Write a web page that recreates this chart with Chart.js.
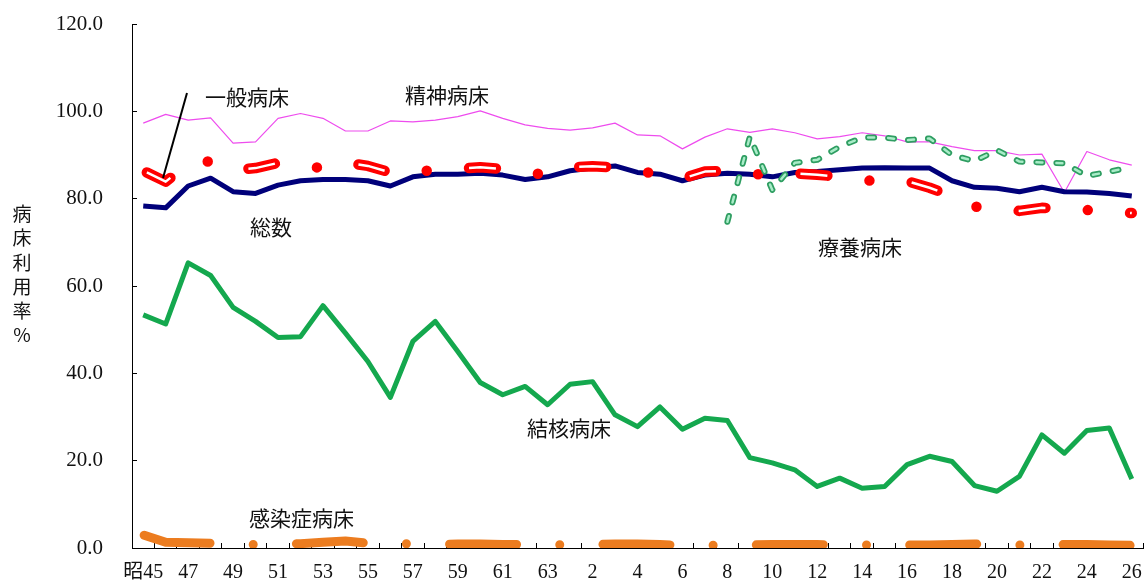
<!DOCTYPE html>
<html lang="ja">
<head>
<meta charset="utf-8">
<title>病床利用率の推移</title>
<script src="https://cdn.jsdelivr.net/npm/chart.js@4.4.1/dist/chart.umd.min.js"></script>
<style>
  html, body { margin: 0; padding: 0; background: #fff; }
  #wrap { position: relative; width: 1147px; height: 582px; }
</style>
</head>
<body>
<div id="wrap"><canvas id="bedChart"></canvas></div>
<script>
// 昭和45年〜平成26年
const years = ['昭45', '46', '47', '48', '49', '50', '51', '52', '53', '54',
  '55', '56', '57', '58', '59', '60', '61', '62', '63', '元',
  '2', '3', '4', '5', '6', '7', '8', '9', '10', '11',
  '12', '13', '14', '15', '16', '17', '18', '19', '20', '21',
  '22', '23', '24', '25', '26'];

const seishin = [97.3, 99.3, 98.0, 98.5, 92.7, 93.0, 98.4, 99.5, 98.4, 95.5,
  95.5, 97.8, 97.6, 98.0, 98.8, 100.1, 98.4, 96.9, 96.1, 95.7,
  96.2, 97.3, 94.6, 94.4, 91.4, 94.1, 96.0, 95.2, 96.0, 95.1,
  93.7, 94.2, 95.1, 94.4, 93.0, 93.0, 91.9, 91.0, 91.0, 90.0,
  90.2, 81.4, 90.8, 88.9, 87.7];

const sousu = [78.3, 77.9, 82.9, 84.7, 81.6, 81.2, 83.1, 84.1, 84.4, 84.4,
  84.1, 82.9, 85.0, 85.6, 85.6, 85.8, 85.4, 84.4, 85.0, 86.4,
  87.0, 87.5, 86.0, 85.6, 84.1, 85.4, 85.8, 85.6, 85.0, 86.0,
  86.2, 86.6, 87.0, 87.1, 87.0, 87.0, 84.1, 82.6, 82.4, 81.6,
  82.6, 81.6, 81.5, 81.2, 80.6];

const ippan = [86.4, 83.9, 88.0, 88.6, 86.6, 87.0, 88.2, 87.6, 87.0, 88.3,
  87.5, 86.0, 86.4, 86.4, 86.8, 87.2, 86.8, 85.8, 85.6, 87.2,
  87.4, 87.2, 86.4, 85.5, 84.6, 86.2, 86.4, 85.6, 85.6, 85.8,
  85.5, 85.0, 84.2, 84.0, 84.0, 82.5, 80.6, 78.2, 77.5, 77.2,
  77.9, 77.8, 77.4, 77.0, 76.7];

const kekkaku = [53.4, 51.3, 65.3, 62.4, 55.1, 51.9, 48.2, 48.4, 55.5, 49.2,
  42.7, 34.5, 47.3, 51.9, 45.0, 37.9, 35.1, 37.0, 32.8, 37.5,
  38.1, 30.5, 27.8, 32.3, 27.2, 29.7, 29.2, 20.7, 19.5, 17.9,
  14.1, 16.0, 13.7, 14.1, 19.1, 21.0, 19.8, 14.3, 13.0, 16.4,
  25.9, 21.7, 26.9, 27.5, 15.8];

const ryoyo = [null, null, null, null, null, null, null, null, null, null,
  null, null, null, null, null, null, null, null, null, null,
  null, null, null, null, null, null, 74.7, 94.2, 82.0, 88.2,
  88.9, 91.9, 94.0, 94.0, 93.4, 93.8, 90.0, 88.6, 91.1, 88.5,
  88.3, 88.1, 85.2, 86.2, 87.2];

const kansen = [3.0, 1.3, 1.2, 1.1, 0.9, 0.8, 0.8, 1.0, 1.3, 1.6,
  1.1, 0.9, 1.0, 0.8, 0.9, 0.9, 0.8, 0.8, 0.8, 0.7,
  0.8, 0.9, 0.9, 0.8, 0.6, 0.6, 0.7, 0.7, 0.8, 0.8,
  0.8, 0.7, 0.7, 0.6, 0.7, 0.7, 0.8, 0.9, 0.8, 0.7,
  0.7, 0.8, 0.8, 0.7, 0.6];

const yTicks = [0, 20, 40, 60, 80, 100, 120];

const notes = [
  { text: '一般病床', x: 205, y: 97 },
  { text: '精神病床', x: 405, y: 95 },
  { text: '総数', x: 250, y: 227 },
  { text: '療養病床', x: 818, y: 247 },
  { text: '結核病床', x: 527, y: 428 },
  { text: '感染症病床', x: 249, y: 518 }
];
const yTitle = '病床利用率%';

const cjk = '"Noto Sans CJK JP", "Noto Sans", sans-serif';
const serif = '"Liberation Serif", "Noto Sans CJK JP", serif';

const notesPlugin = {
  id: 'notes',
  afterDraw(chart) {
    const ctx = chart.ctx;
    ctx.save();
    ctx.fillStyle = '#111';
    ctx.textBaseline = 'middle';
    ctx.textAlign = 'left';
    ctx.font = '21px ' + cjk;
    notes.forEach(n => ctx.fillText(n.text, n.x, n.y));

    // 一般病床の引出線
    ctx.strokeStyle = '#000';
    ctx.lineWidth = 2;
    ctx.beginPath();
    ctx.moveTo(187, 93);
    ctx.lineTo(163, 178);
    ctx.stroke();

    // 縦書きの軸タイトル
    ctx.textAlign = 'center';
    ctx.font = '19px ' + cjk;
    [...yTitle].forEach((ch, i) => ctx.fillText(ch, 22, 214 + i * 24.2));
    ctx.restore();
  }
};

const ctx = document.getElementById('bedChart').getContext('2d');
new Chart(ctx, {
  type: 'line',
  data: {
    labels: years,
    datasets: [
      { label: '結核病床', data: kekkaku, borderColor: '#14a84e', borderWidth: 5, order: 7 },
      { label: '感染症病床', data: kansen, borderColor: '#ec7c1f', borderWidth: 9,
        borderCapStyle: 'round', borderDash: [67, 43.2, 0, 43.2], borderDashOffset: -1,
        clip: { left: 10, top: 10, right: 10, bottom: 0 }, order: 6 },
      { label: '精神病床', data: seishin, borderColor: '#ee4cee', borderWidth: 1.2, order: 5 },
      { label: '総数', data: sousu, borderColor: '#00007a', borderWidth: 5, order: 4 },
      { label: '一般病床', data: ippan, borderColor: '#ff0000', borderWidth: 10.5,
        borderCapStyle: 'round', borderDash: [27, 42.4, 0, 42.4], borderDashOffset: -4, order: 3 },
      { label: '一般病床(中)', data: ippan, borderColor: '#ffffff', borderWidth: 2.5,
        borderCapStyle: 'butt', borderDash: [27, 84.8], borderDashOffset: -4, order: 2 },
      { label: '療養病床', data: ryoyo, borderColor: '#2f9e62', borderWidth: 6,
        borderCapStyle: 'round', borderDash: [6, 14], order: 1 },
      { label: '療養病床(中)', data: ryoyo, borderColor: '#a9ecc8', borderWidth: 2.5,
        borderCapStyle: 'round', borderDash: [6, 14], order: 0 }
    ]
  },
  options: {
    responsive: true,
    maintainAspectRatio: false,
    animation: false,
    layout: { padding: { top: 24, right: 4, left: 0, bottom: 0 } },
    elements: {
      point: { radius: 0, hoverRadius: 0 },
      line: { tension: 0, borderJoinStyle: 'round', fill: false }
    },
    plugins: {
      legend: { display: false },
      tooltip: { enabled: false }
    },
    scales: {
      x: {
        offset: true,
        grid: { offset: true, drawOnChartArea: false, drawTicks: true, tickLength: -5, color: '#000', lineWidth: 1 },
        border: { color: '#000', width: 1 },
        ticks: {
          autoSkip: false,
          maxRotation: 0,
          padding: 18,
          color: '#111',
          font: { family: serif, size: 20 },
          callback: (v, i) => (i % 2 === 0 ? years[i] : '')
        },
        afterFit: s => {
          s.height = 34;
          s.paddingLeft = 0;
          s.paddingRight = 0;
        }
      },
      y: {
        min: 0,
        max: 120,
        afterBuildTicks: s => { s.ticks = yTicks.map(v => ({ value: v })); },
        grid: { drawOnChartArea: false, drawTicks: true, tickLength: -5, color: '#000', lineWidth: 1 },
        border: { color: '#000', width: 1 },
        ticks: {
          padding: 34,
          color: '#111',
          font: { family: serif, size: 21 },
          callback: v => v.toFixed(1)
        },
        afterFit: s => {
          s.width = 132;
          s.paddingTop = 0;
          s.paddingBottom = 0;
        }
      }
    }
  },
  plugins: [notesPlugin]
});
</script>
</body>
</html>
